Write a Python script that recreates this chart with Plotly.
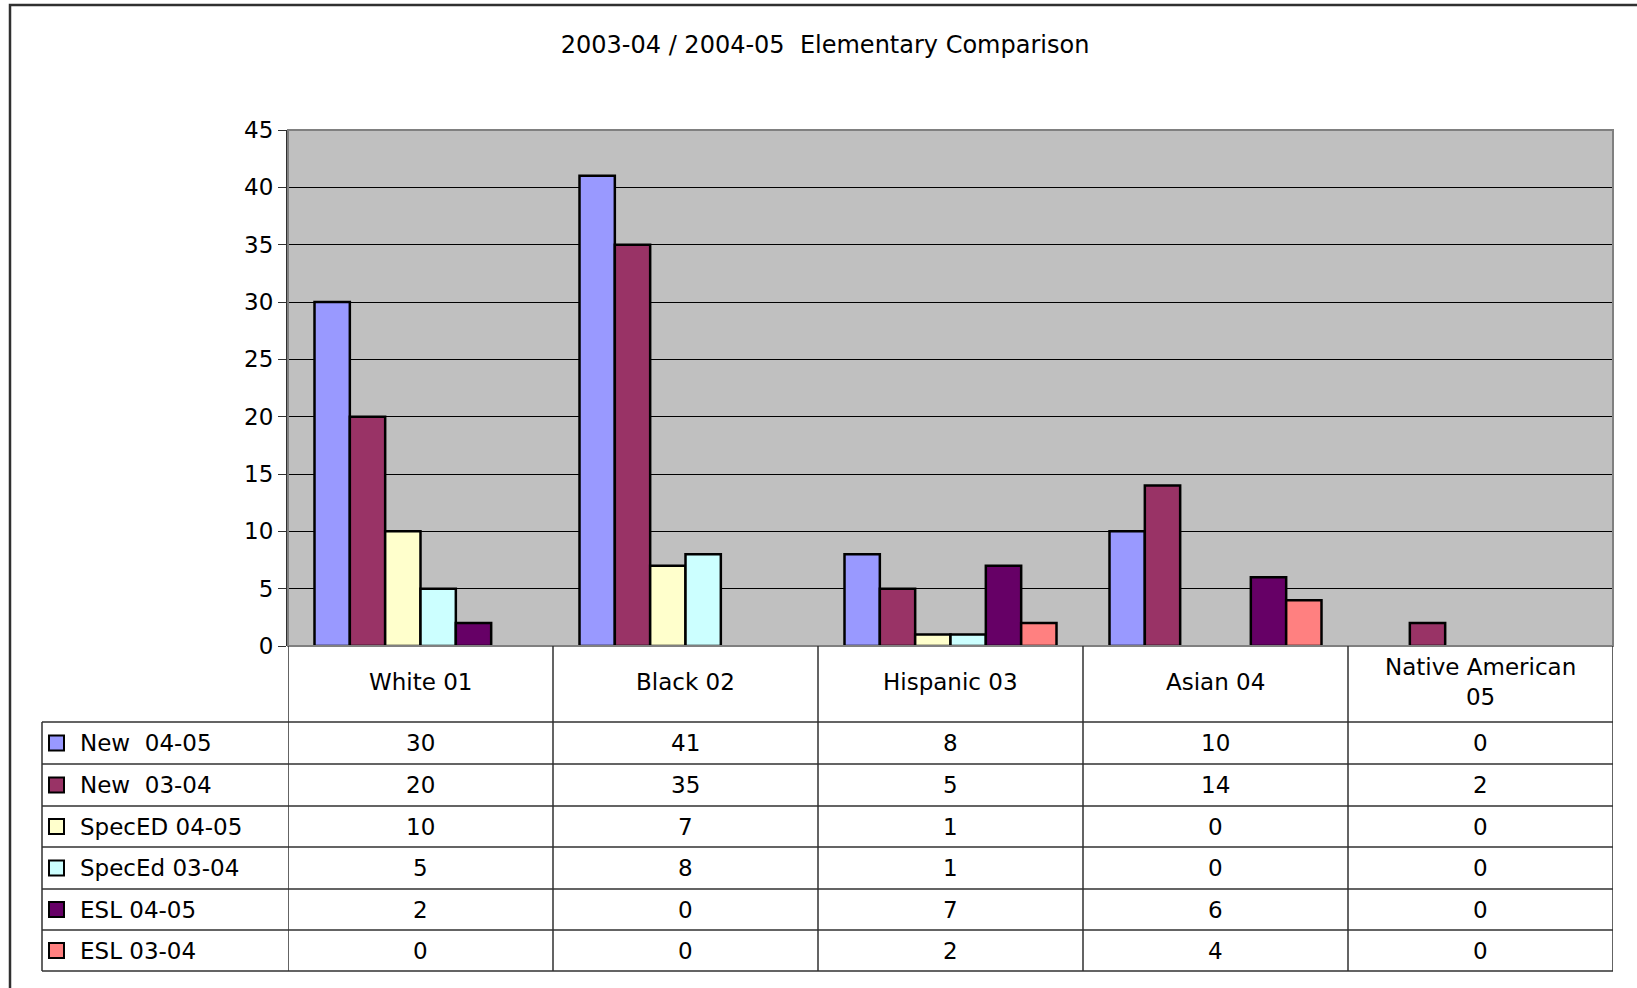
import plotly.graph_objects as go

title = "2003-04 / 2004-05  Elementary Comparison"
categories = ["White 01", "Black 02", "Hispanic 03", "Asian 04", "Native American<br>05"]
series_names = ["New  04-05", "New  03-04", "SpecED 04-05", "SpecEd 03-04", "ESL 04-05", "ESL 03-04"]
new_0405 = [30, 41, 8, 10, 0]
new_0304 = [20, 35, 5, 14, 2]
speced_0405 = [10, 7, 1, 0, 0]
speced_0304 = [5, 8, 1, 0, 0]
esl_0405 = [2, 0, 7, 6, 0]
esl_0304 = [0, 0, 2, 4, 0]
series_values = [new_0405, new_0304, speced_0405, speced_0304, esl_0405, esl_0304]
colors = ["#9999FF", "#993366", "#FFFFCC", "#CCFFFF", "#660066", "#FF8080"]
y_ticks = [0, 5, 10, 15, 20, 25, 30, 35, 40, 45]

W, H = 1637, 988
L, R, T, B = 288, 24, 130, 342
PW, PH = W - L - R, H - T - B
FONT = "DejaVu Sans, Liberation Sans, Arial"
FS = 23


def py(p):
    return (H - B - p) / PH


def px(p):
    return (p - L) / PW


fig = go.Figure()
xs = list(range(len(categories)))
for name, vals, col in zip(series_names, series_values, colors):
    fig.add_trace(go.Bar(
        x=xs, y=vals, name=name,
        marker=dict(color=col, line=dict(color="black", width=[0 if v == 0 else 2.5 for v in vals])),
    ))

shapes = []
annotations = []

# outer frame
shapes.append(dict(type="rect", xref="paper", yref="paper", x0=px(10), x1=px(1700), y0=py(1100), y1=py(5),
                   line=dict(color="#303030", width=2.5), fillcolor="rgba(0,0,0,0)", layer="below"))
# plot border
shapes.append(dict(type="rect", xref="paper", yref="paper", x0=0, x1=1, y0=0, y1=1,
                   line=dict(color="#808080", width=2)))

row_lines = [722, 764, 806, 847, 889, 930, 971]
line_col = "#303030"
# header verticals
for i in range(len(categories) + 1):
    shapes.append(dict(type="line", xref="x", yref="paper", x0=i - 0.5, x1=i - 0.5, y0=py(646), y1=py(971),
                       line=dict(color=line_col, width=1.5)))
# legend column left border
shapes.append(dict(type="line", xref="paper", yref="paper", x0=px(42), x1=px(42), y0=py(722), y1=py(971),
                   line=dict(color=line_col, width=1.5)))
for r in row_lines:
    shapes.append(dict(type="line", xref="paper", yref="paper", x0=px(42), x1=1, y0=py(r), y1=py(r),
                       line=dict(color=line_col, width=1.5)))

# header labels
for i, c in enumerate(categories):
    annotations.append(dict(x=i, y=py(682), xref="x", yref="paper", text=c, showarrow=False,
                            font=dict(family=FONT, size=FS, color="black"), xanchor="center", yanchor="middle"))

# rows
for j, (name, vals, col) in enumerate(zip(series_names, series_values, colors)):
    top, bot = row_lines[j], row_lines[j + 1]
    cy = (top + bot) / 2
    shapes.append(dict(type="rect", xref="paper", yref="paper", x0=px(49), x1=px(64), y0=py(cy + 7.5), y1=py(cy - 7.5),
                       fillcolor=col, line=dict(color="black", width=2)))
    annotations.append(dict(x=px(78), y=py(cy), xref="paper", yref="paper", text=name, showarrow=False,
                            font=dict(family=FONT, size=FS, color="black"), xanchor="left", yanchor="middle"))
    for i, v in enumerate(vals):
        annotations.append(dict(x=i, y=py(cy), xref="x", yref="paper", text=str(v), showarrow=False,
                                font=dict(family=FONT, size=FS, color="black"), xanchor="center", yanchor="middle"))

fig.update_layout(
    width=W, height=H,
    margin=dict(l=L, r=R, t=T, b=B, pad=0),
    paper_bgcolor="white", plot_bgcolor="#C0C0C0",
    barmode="group", bargap=0.2, bargroupgap=0,
    showlegend=False,
    title=dict(text=title, x=0.504, xref="container", xanchor="center", y=1 - 45 / H, yref="container",
               yanchor="middle", font=dict(family=FONT, size=24, color="black")),
    xaxis=dict(range=[-0.5, len(categories) - 0.5], showticklabels=False, showgrid=False, zeroline=False,
               showline=False, ticks=""),
    yaxis=dict(range=[0, 45], tickvals=y_ticks, ticktext=[str(t) for t in y_ticks],
               showgrid=True, gridcolor="black", gridwidth=1, zeroline=True, zerolinecolor="black", zerolinewidth=2,
               showline=True, linecolor="#303030", linewidth=2, ticks="outside", ticklen=8, tickcolor="#303030",
               tickfont=dict(family=FONT, size=FS, color="black")),
    shapes=shapes, annotations=annotations,
)

fig.write_html("out.html", config={"displayModeBar": False},
               post_script="document.body.style.margin='0';document.body.style.overflow='hidden';")
